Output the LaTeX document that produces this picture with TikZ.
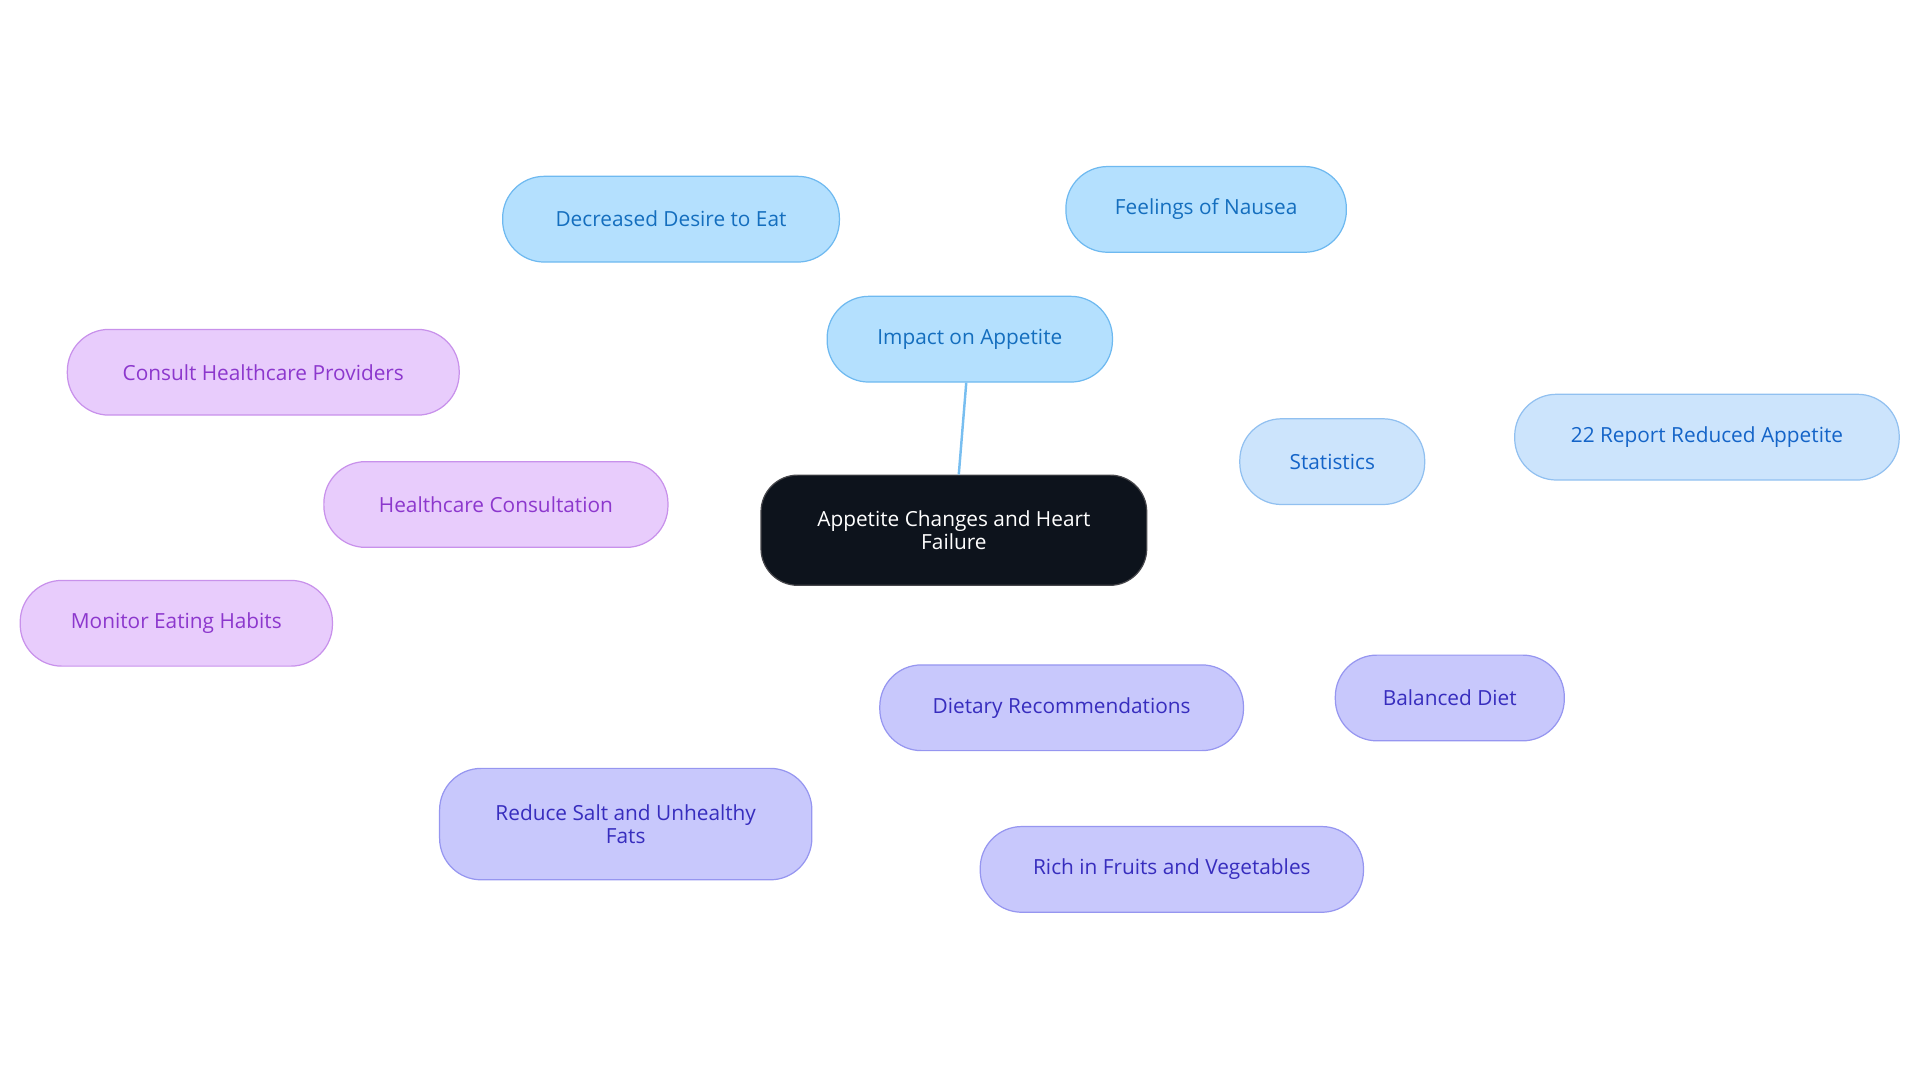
\documentclass[tikz,border=0pt]{standalone}
\usepackage{fontspec}
\setmainfont{Open Sans}
\begin{document}
\begin{tikzpicture}[x=1pt,y=-1pt,
 base/.style={draw,rounded corners=34pt,line width=1pt,align=center,inner sep=0pt,font=\fontsize{17}{19}\selectfont},
 blue/.style={base,fill=blue!0!white,fill={rgb,255:red,180;green,224;blue,254},draw={rgb,255:red,110;green,185;blue,240},text={rgb,255:red,20;green,110;blue,190}},
 lblue/.style={base,fill={rgb,255:red,204;green,228;blue,252},draw={rgb,255:red,145;green,192;blue,240},text={rgb,255:red,20;green,100;blue,200}},
 purp/.style={base,fill={rgb,255:red,232;green,204;blue,252},draw={rgb,255:red,200;green,145;blue,235},text={rgb,255:red,140;green,55;blue,205}},
 viol/.style={base,fill={rgb,255:red,200;green,200;blue,252},draw={rgb,255:red,150;green,150;blue,240},text={rgb,255:red,55;green,45;blue,190}},
 eb/.style={line width=2pt,draw={rgb,255:red,120;green,190;blue,240}},
 elb/.style={line width=2pt,draw={rgb,255:red,150;green,195;blue,240}},
 ep/.style={line width=2pt,draw={rgb,255:red,200;green,150;blue,240}},
 ev/.style={line width=2pt,draw={rgb,255:red,150;green,150;blue,240}}]
\useasboundingbox (0,0) rectangle (1568,884);
\node[base,rounded corners=30pt,fill={rgb,255:red,13;green,19;blue,28},draw={rgb,255:red,70;green,70;blue,75},text=white,minimum width=315pt,minimum height=90pt] (c) at (779,433) {Appetite Changes and Heart\\Failure};
\node[blue,minimum width=233pt,minimum height=70pt] (imp) at (792,277) {Impact on Appetite};
\node[blue,minimum width=275pt,minimum height=70pt] (dec) at (548,179) {Decreased Desire to Eat};
\node[blue,minimum width=229pt,minimum height=70pt] (nau) at (985,171) {Feelings of Nausea};
\node[lblue,minimum width=151pt,minimum height=70pt] (sta) at (1088,377) {Statistics};
\node[lblue,minimum width=314pt,minimum height=70pt] (rep) at (1394,357) {22 Report Reduced Appetite};
\node[purp,minimum width=281pt,minimum height=70pt] (hc) at (405,412) {Healthcare Consultation};
\node[purp,minimum width=320pt,minimum height=70pt] (con) at (215,304) {Consult Healthcare Providers};
\node[purp,minimum width=255pt,minimum height=70pt] (mon) at (144,509) {Monitor Eating Habits};
\node[viol,minimum width=297pt,minimum height=70pt] (die) at (867,578) {Dietary Recommendations};
\node[viol,minimum width=187pt,minimum height=70pt] (bal) at (1184,570) {Balanced Diet};
\node[viol,minimum width=304pt,minimum height=91pt] (red) at (511,673) {Reduce Salt and Unhealthy\\Fats};
\node[viol,minimum width=313pt,minimum height=70pt] (ric) at (957,710) {Rich in Fruits and Vegetables};
\begin{scope}[on background layer/.style={}]
\end{scope}
\draw[eb] (c.north) ++(4,0) -- (imp);
\end{tikzpicture}
\end{document}
